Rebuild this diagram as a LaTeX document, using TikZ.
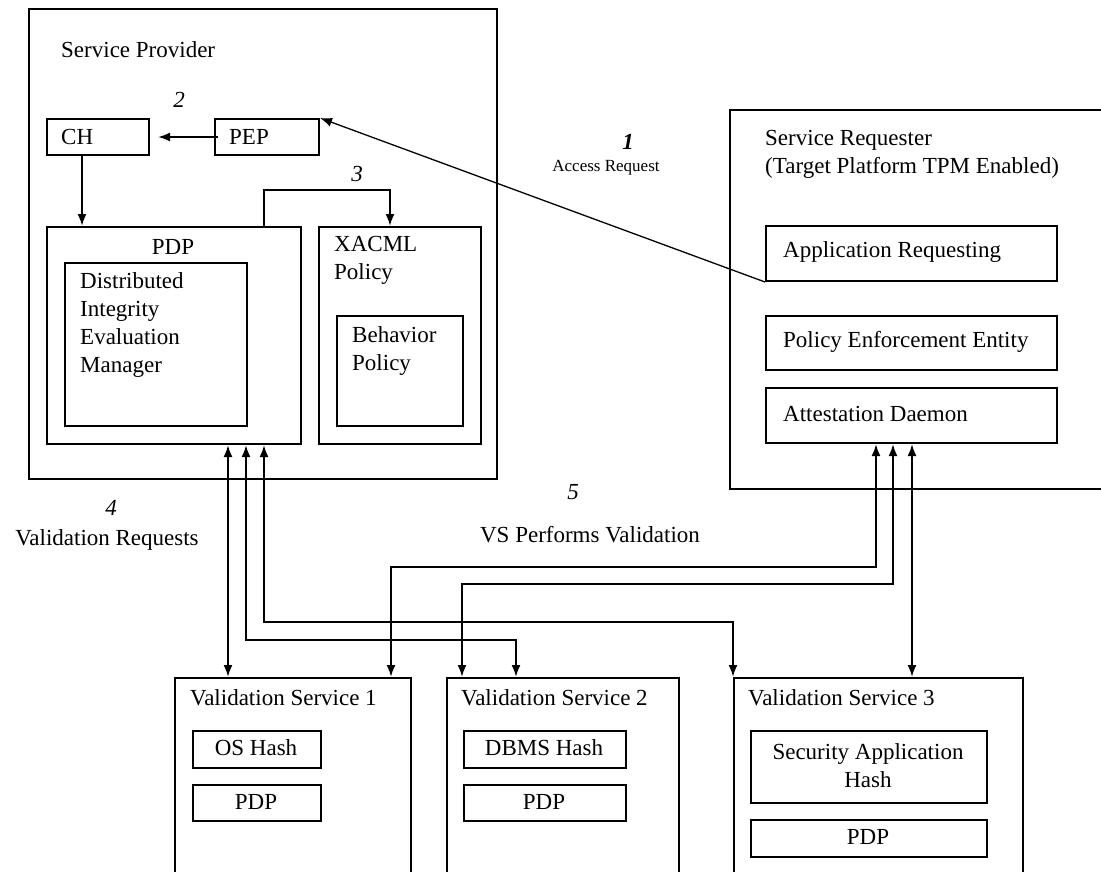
\documentclass[tikz,border=0pt]{standalone}
\usepackage{fontspec}
\setmainfont{Liberation Serif}
\usetikzlibrary{arrows.meta,calc}
\begin{document}
\begin{tikzpicture}[x=1pt,y=-1pt,
  box/.style={draw, line width=2pt, anchor=north west, inner sep=0pt},
  txt/.style={font=\fontsize{23}{28}\selectfont, inner sep=0pt},
  small/.style={font=\fontsize{17}{20}\selectfont, inner sep=0pt},
  num/.style={font=\fontsize{23}{28}\selectfont\itshape, inner sep=0pt},
  arr/.style={line width=2pt, -{Latex[length=12pt,width=9pt]}},
  darr/.style={line width=2pt, {Latex[length=12pt,width=9pt]}-{Latex[length=12pt,width=9pt]}}]
\clip (0,0) rectangle (1101,871);
\fill[white] (0,0) rectangle (1101,871);

% ---------- Service Provider ----------
\node[box, minimum width=468pt, minimum height=470pt] (SP) at (28,8) {};
\node[txt, anchor=west] (SPt) at (61,50) {Service Provider};
\node[box, minimum width=102pt, minimum height=36pt] (CH) at (46,118) {};
\node[txt, anchor=west] (CHt) at (61,137) {CH};
\node[box, minimum width=104pt, minimum height=36pt] (PEP) at (214,118) {};
\node[txt, anchor=west] (PEPt) at (229,137) {PEP};
\node[box, minimum width=254pt, minimum height=217pt] (PDP) at (46,226) {};
\node[txt] (PDPt) at (173,247) {PDP};
\node[box, minimum width=182pt, minimum height=163pt] (DIEM) at (64,262) {};
\node[txt, anchor=north west, align=left] (DIEMt) at (80,272) {Distributed\\Integrity\\Evaluation\\Manager};
\node[box, minimum width=162pt, minimum height=217pt] (XACML) at (318,226) {};
\node[txt, anchor=north west, align=left] (XACMLt) at (334,236) {XACML\\Policy};
\node[box, minimum width=126pt, minimum height=110pt] (BEH) at (336,315) {};
\node[txt, anchor=north west, align=left] (BEHt) at (352,326) {Behavior\\Policy};

\node[num] (n2) at (179,100) {2};
\node[num] (n3) at (357,174) {3};

% ---------- Service Requester ----------
\node[box, minimum width=400pt, minimum height=379pt] (SR) at (729,109) {};
\node[txt, anchor=north west, align=left] (SRt) at (765,130) {Service Requester\\(Target Platform TPM Enabled)};
\node[box, minimum width=291pt, minimum height=55pt] (APP) at (765,225) {};
\node[txt, anchor=west] (APPt) at (783,252) {Application Requesting};
\node[box, minimum width=291pt, minimum height=54pt] (PEE) at (765,315) {};
\node[txt, anchor=west] (PEEt) at (783,342) {Policy Enforcement Entity};
\node[box, minimum width=291pt, minimum height=55pt] (ATT) at (765,387) {};
\node[txt, anchor=west] (ATTt) at (783,414) {Attestation Daemon};

\node[num, font=\fontsize{23}{28}\selectfont\itshape\bfseries] (n1) at (628,142) {1};
\node[small] (ARt) at (606,168) {Access Request};

% ---------- Validation services ----------
\node[box, minimum width=236pt, minimum height=250pt] (VS1) at (174,677) {};
\node[txt, anchor=west] (VS1t) at (190,698) {Validation Service 1};
\node[box, minimum width=128pt, minimum height=37pt] (OSH) at (192,730) {};
\node[txt] (OSHt) at (256,748) {OS Hash};
\node[box, minimum width=128pt, minimum height=36pt] (P1) at (192,784) {};
\node[txt] (P1t) at (256,802) {PDP};

\node[box, minimum width=232pt, minimum height=250pt] (VS2) at (446,677) {};
\node[txt, anchor=west] (VS2t) at (461,698) {Validation Service 2};
\node[box, minimum width=162pt, minimum height=37pt] (DBH) at (463,730) {};
\node[txt] (DBHt) at (544,748) {DBMS Hash};
\node[box, minimum width=162pt, minimum height=36pt] (P2) at (463,784) {};
\node[txt] (P2t) at (544,802) {PDP};

\node[box, minimum width=289pt, minimum height=250pt] (VS3) at (733,677) {};
\node[txt, anchor=west] (VS3t) at (748,698) {Validation Service 3};
\node[box, minimum width=236pt, minimum height=72pt] (SAH) at (750,730) {};
\node[txt, align=center] (SAHt) at (868,766) {Security Application\\Hash};
\node[box, minimum width=236pt, minimum height=37pt] (P3) at (750,819) {};
\node[txt] (P3t) at (868,837) {PDP};

% ---------- labels 4 and 5 ----------
\node[num] (n4) at (111,508) {4};
\node[txt] (VRt) at (107,540) {Validation Requests};
\node[num] (n5) at (573,492) {5};
\node[txt] (VSPt) at (590,535) {VS Performs Validation};

% ---------- helper coordinates ----------
\coordinate (k) at (82,0);
\coordinate (t3) at (0,190);
\coordinate (x3) at (390,0);
\coordinate (a1) at (228,0);
\coordinate (a2) at (246,0);
\coordinate (a3) at (264,0);
\coordinate (b1) at (876,0);
\coordinate (b2) at (893,0);
\coordinate (b3) at (912,0);
\coordinate (c1) at (391,0);
\coordinate (c2) at (462,0);
\coordinate (c3) at (516,0);
\coordinate (h1) at (0,567);
\coordinate (h2) at (0,584);
\coordinate (h3) at (0,622);
\coordinate (h4) at (0,640);

% ---------- connectors ----------
\draw[arr, shorten >=8pt, shorten <=-4pt] (PEP.west) -- (CH.east);
\draw[arr] (CH.south -| k) -- (PDP.north -| k);
\draw[arr] (PDP.north -| a3) -- (a3 |- t3) -| (XACML.north -| x3);
\draw[arr, line width=1.3pt] (APP.south west) -- (PEP.north east);

\draw[darr] (PDP.south -| a1) -- (VS1.north -| a1);
\draw[darr] (PDP.south -| a2) -- (a2 |- h4) -| (VS2.north -| c3);
\draw[darr] (PDP.south -| a3) -- (a3 |- h3) -| (VS3.north west);
\draw[darr] (ATT.south -| b1) -- (b1 |- h1) -| (VS1.north -| c1);
\draw[darr] (ATT.south -| b2) -- (b2 |- h2) -| (VS2.north -| c2);
\draw[darr] (ATT.south -| b3) -- (VS3.north -| b3);
\end{tikzpicture}
\end{document}
